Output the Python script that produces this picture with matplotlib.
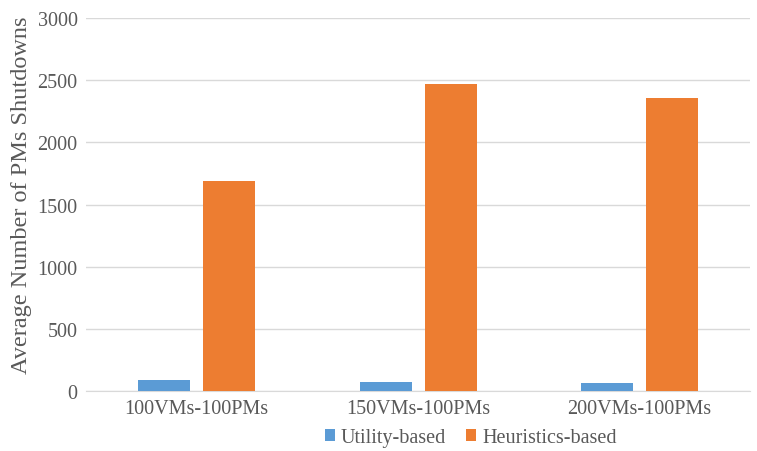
import matplotlib.pyplot as plt
import numpy as np

plt.rcParams['font.family'] = ['Liberation Serif', 'DejaVu Serif']

categories = ['100VMs-100PMs', '150VMs-100PMs', '200VMs-100PMs']
utility = [90, 75, 65]
heuristics = [1690, 2470, 2355]
series_names = ['Utility-based', 'Heuristics-based']
colors = ['#5B9BD5', '#ED7D31']
txt = '#595959'

fig = plt.figure(figsize=(7.57, 4.52), dpi=100)
ax = fig.add_axes([0.1136, 0.1327, 0.8774, 0.8253])

x = np.arange(len(categories))
w = 0.235
off = 0.147
ax.bar(x - off, utility, w, color=colors[0], label=series_names[0], zorder=3)
ax.bar(x + off, heuristics, w, color=colors[1], label=series_names[1], zorder=3)

ax.set_xlim(-0.5, len(categories) - 0.5)
ax.set_ylim(0, 3000)
ax.set_yticks(range(0, 3001, 500))
ax.grid(axis='y', color='#D9D9D9', linewidth=1, zorder=0)
ax.set_xticks(x)
ax.set_xticklabels(categories)
ax.tick_params(axis='both', length=0, labelsize=14.5, colors=txt)
ax.tick_params(axis='x', pad=6)
ax.tick_params(axis='y', pad=6)
for s in ['top', 'right', 'left']:
    ax.spines[s].set_visible(False)
ax.spines['bottom'].set_color('#D9D9D9')
ax.set_ylabel('Average Number of PMs Shutdowns', fontsize=17.5, color=txt)
ax.yaxis.set_label_coords(-0.082, 0.527)

fig.legend(loc='lower center', bbox_to_anchor=(0.622, -0.005), ncol=2, frameon=False,
           fontsize=14.5, labelcolor=txt, handlelength=0.5, handleheight=0.5,
           handletextpad=0.3, columnspacing=1.0, borderaxespad=0.1, borderpad=0.2)

fig.savefig('out.png', dpi=100)
